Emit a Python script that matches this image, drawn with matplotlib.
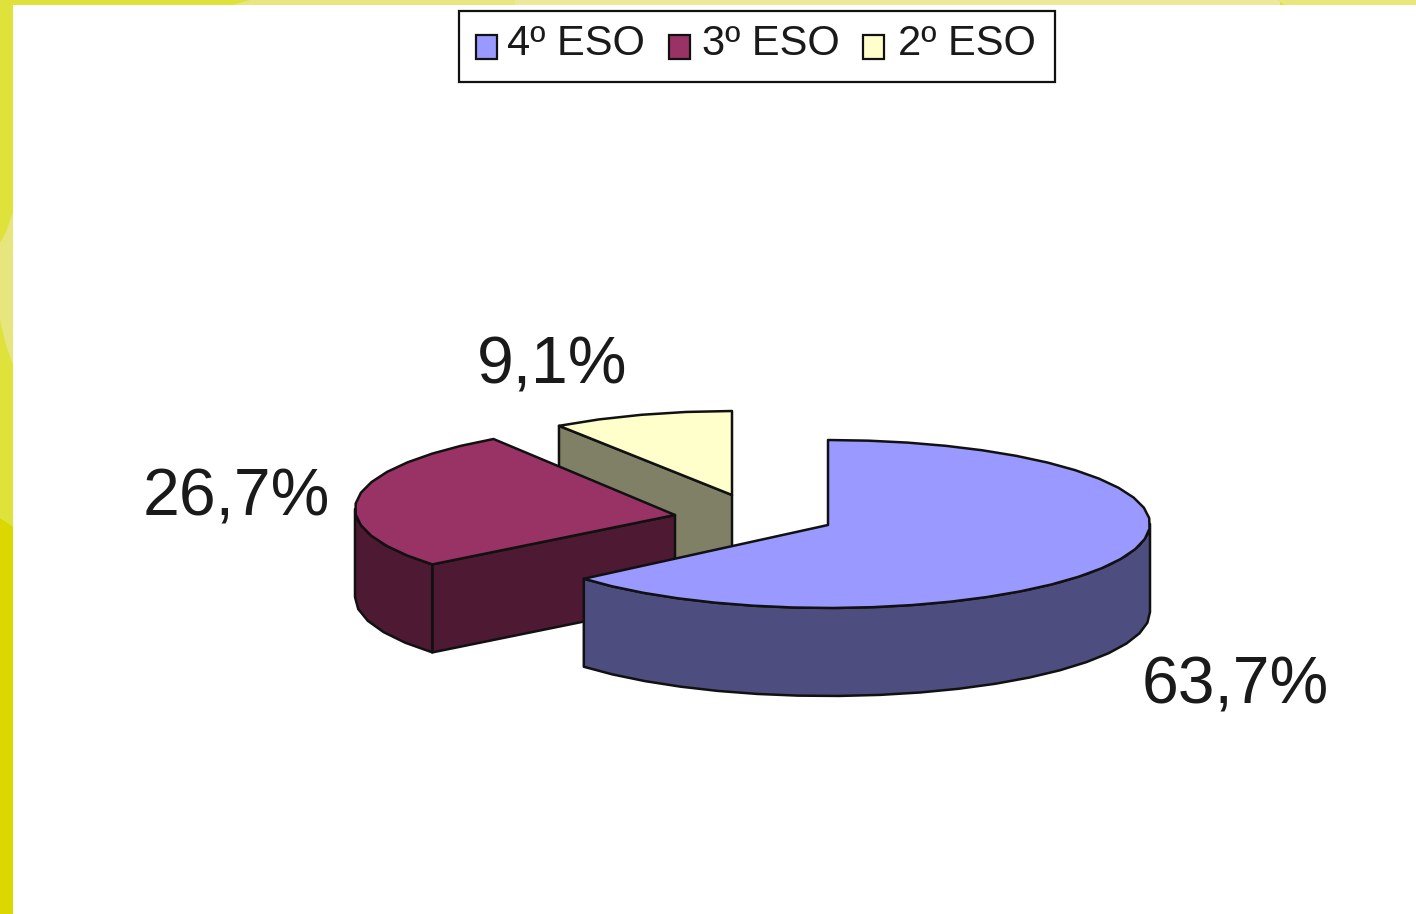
# 3D style exploded pie chart, students per course

import numpy as np
import matplotlib
matplotlib.use("Agg")
import matplotlib.pyplot as plt
from matplotlib.patches import Polygon, Rectangle

plt.rcParams['font.family'] = ['Liberation Sans', 'DejaVu Sans']

# data
courses = ['4º ESO', '3º ESO', '2º ESO']
percent = [63.7, 26.7, 9.1]

# colours
top_colors = ['#9999FF', '#993366', '#FFFFCC']
wall_colors = ['#4D4D80', '#4D1933', '#808066']

# layout of each slice, in pixels
apex_x = [828, 675, 732]
apex_y = [525, 515, 495]
rim_y = [524, 509, 495]
radius_x = [322, 320, 305]
radius_y = [84, 85, 84]
depth = 88
label_x = [1142, 143, 477]
label_y = [703, 516, 383]
swatch_x = [476, 669, 863]
legend_text_x = [507, 702, 898]

EDGE = '#111111'
LW = 1.8

fig = plt.figure(figsize=(14.16, 9.14), dpi=100)
ax = fig.add_axes([0, 0, 1, 1])
ax.set_xlim(0, 1416)
ax.set_ylim(914, 0)
ax.axis('off')

# ------------------------------------------
# yellow slide border
# ------------------------------------------
ax.add_patch(Rectangle((0, 0), 13, 527, fc='#E0E23C', ec='none'))
ax.add_patch(Polygon([(0, 518), (13, 527), (13, 914), (0, 914)], fc='#DAD800', ec='none'))
ax.add_patch(Polygon([(0, 243), (6, 232), (13, 212), (13, 365), (6, 345), (0, 320)], fc='#E7E57E', ec='none'))
ax.add_patch(Rectangle((13, 0), 1403, 5, fc='#E0E23C', ec='none'))
ax.add_patch(Polygon([(250, 0), (515, 0), (515, 5), (233, 5)], fc='#E9E680', ec='none'))
ax.add_patch(Rectangle((515, 0), 765, 5, fc='#EDE99A', ec='none'))
ax.add_patch(Polygon([(1277, 0), (1416, 0), (1416, 5), (1285, 5)], fc='#E9E67A', ec='none'))


def rim(i, t0, t1):
    # a few straight pieces per slice, the original outline is faceted
    n = max(2, int((t1 - t0) / 7) + 1)
    t = np.radians(np.linspace(t0, t1, n))
    x = apex_x[i] + radius_x[i] * np.sin(t)
    y = rim_y[i] - radius_y[i] * np.cos(t)
    return np.column_stack([x, y])


def shape(pts, color, z):
    ax.add_patch(Polygon(pts, closed=True, fc=color, ec=EDGE, lw=LW, joinstyle='round', zorder=z))


def drop(pts):
    return pts + np.array([0, depth])


# ------------------------------------------
# slices, clockwise from 12 o'clock
# ------------------------------------------
ends = np.cumsum(percent) / 100 * 360
ends[-1] = 360  # rounded values do not reach 100
starts = np.concatenate([[0], ends[:-1]])

# back to front, so the big slice covers the others
for i in [2, 1, 0]:
    t0, t1 = starts[i], ends[i]
    z = 3 - i
    apex = np.array([[apex_x[i], apex_y[i]]])
    edge = rim(i, t0, t1)

    # cut face on the starting side, if it looks at us
    if i > 0:
        p = rim(i, t0, t0)[:1]
        shape(np.vstack([apex, p, drop(p), drop(apex)]), wall_colors[i], z)

    # outer wall, only the front half of the rim
    a, b = max(t0, 90), min(t1, 270)
    if a < b:
        r = rim(i, a, b)
        shape(np.vstack([r, drop(r)[::-1]]), wall_colors[i], z)

    shape(np.vstack([apex, edge]), top_colors[i], z)

# ------------------------------------------
# data labels
# ------------------------------------------
for i, v in enumerate(percent):
    txt = f"{v:.1f}%".replace('.', ',')
    ax.text(label_x[i], label_y[i], txt, fontsize=47.5, color='#1a1a1a', ha='left', va='baseline', zorder=6)

# ------------------------------------------
# legend box
# ------------------------------------------
ax.add_patch(Rectangle((459, 11), 596, 71, fc='white', ec=EDGE, lw=1.6, zorder=5))
for i, name in enumerate(courses):
    ax.add_patch(Rectangle((swatch_x[i], 35), 21, 24, fc=top_colors[i], ec=EDGE, lw=1.6, zorder=6))
    ax.text(legend_text_x[i], 55, name, fontsize=30, color='#1a1a1a', ha='left', va='baseline', zorder=6)

fig.savefig('out.png', dpi=100, facecolor='white')
